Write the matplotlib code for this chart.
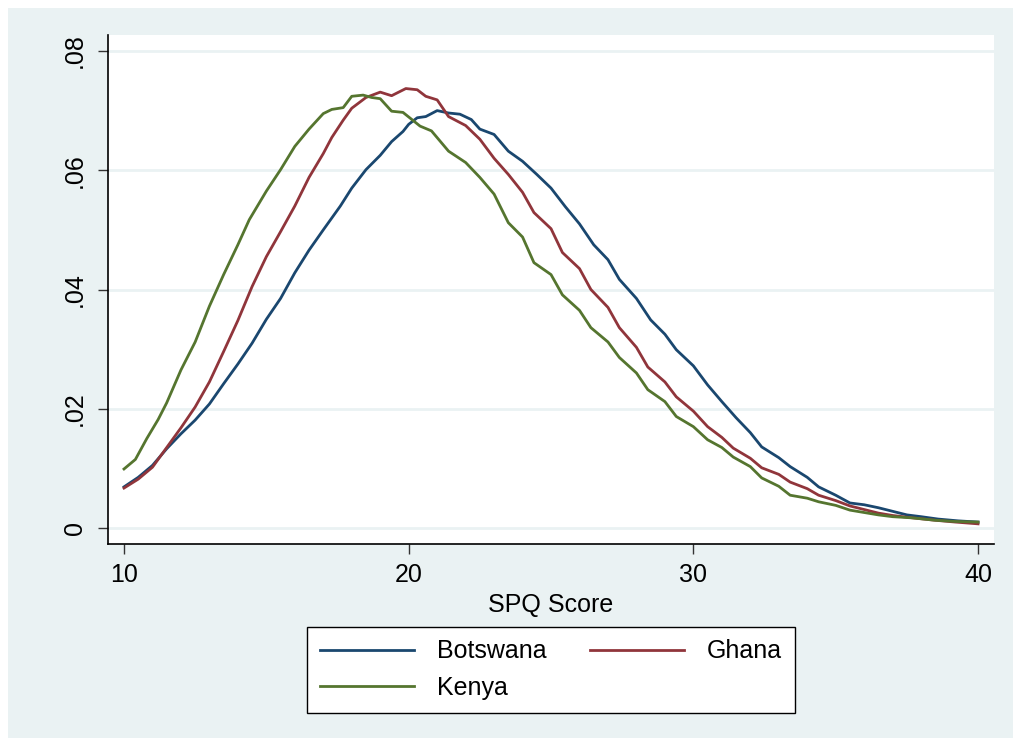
import matplotlib
matplotlib.use("Agg")
import matplotlib.pyplot as plt
from matplotlib.patches import Rectangle

# Kernel density of SPQ score by country
botswana_x = [10.0, 10.5, 11.0, 11.5, 12.0, 12.5, 13.0, 13.5, 14.0, 14.5,
              15.0, 15.5, 16.0, 16.5, 17.0, 17.6, 18.0, 18.5, 19.0, 19.4,
              19.8, 20.0, 20.3, 20.6, 21.0, 21.4, 21.8, 22.2, 22.5, 23.0,
              23.5, 24.0, 24.5, 25.0, 25.5, 26.0, 26.5, 27.0, 27.4, 28.0,
              28.5, 29.0, 29.4, 30.0, 30.5, 31.0, 31.5, 32.0, 32.4, 33.0,
              33.4, 34.0, 34.4, 35.0, 35.5, 36.0, 36.5, 37.0, 37.5, 38.0,
              38.6, 39.3, 40.0]
botswana_y = [.0069, .0085, .0105, .0133, .0158, .0181, .0208, .0242, .0275, .0310,
              .0350, .0385, .0428, .0466, .0500, .0540, .0570, .0601, .0625, .0648,
              .0665, .0677, .0688, .0690, .0700, .0696, .0694, .0685, .0669, .0660,
              .0632, .0615, .0593, .0570, .0539, .0510, .0475, .0450, .0417, .0385,
              .0349, .0325, .0299, .0272, .0240, .0212, .0185, .0160, .0136, .0118,
              .0103, .0085, .0069, .0055, .0042, .0039, .0034, .0028, .0022, .0019,
              .0015, .0012, .0010]

ghana_x = [10.0, 10.5, 11.0, 11.5, 12.0, 12.5, 13.0, 13.5, 14.0, 14.5,
           15.0, 15.5, 16.0, 16.5, 17.0, 17.3, 17.7, 18.0, 18.5, 19.0,
           19.4, 19.9, 20.3, 20.6, 21.0, 21.4, 22.0, 22.5, 23.0, 23.5,
           24.0, 24.4, 25.0, 25.4, 26.0, 26.4, 27.0, 27.4, 28.0, 28.4,
           29.0, 29.4, 30.0, 30.5, 31.0, 31.4, 32.0, 32.4, 33.0, 33.4,
           34.0, 34.4, 35.0, 35.5, 36.0, 36.5, 37.0, 37.7, 38.5, 39.2,
           40.0]
ghana_y = [.0067, .0082, .0102, .0135, .0168, .0203, .0245, .0296, .0348, .0405,
           .0455, .0497, .0540, .0588, .0628, .0655, .0684, .0704, .0722, .0731,
           .0725, .0737, .0735, .0724, .0718, .0690, .0675, .0652, .0620, .0593,
           .0563, .0529, .0502, .0462, .0435, .0400, .0370, .0336, .0303, .0270,
           .0245, .0220, .0196, .0170, .0152, .0134, .0117, .0101, .0090, .0077,
           .0066, .0055, .0046, .0037, .0031, .0025, .0021, .0017, .0013, .0010,
           .0007]

kenya_x = [10.0, 10.4, 10.8, 11.2, 11.5, 12.0, 12.5, 12.8, 13.0, 13.5,
           14.0, 14.4, 15.0, 15.5, 16.0, 16.5, 17.0, 17.3, 17.7, 18.0,
           18.4, 18.7, 19.0, 19.4, 19.8, 20.4, 20.8, 21.4, 22.0, 22.5,
           23.0, 23.5, 24.0, 24.4, 25.0, 25.4, 26.0, 26.4, 27.0, 27.4,
           28.0, 28.4, 29.0, 29.4, 30.0, 30.5, 31.0, 31.4, 32.0, 32.4,
           33.0, 33.4, 34.0, 34.4, 35.0, 35.5, 36.0, 36.5, 37.0, 37.7,
           38.5, 39.2, 40.0]
kenya_y = [.0099, .0115, .0150, .0182, .0210, .0265, .0312, .0348, .0372, .0425,
           .0475, .0517, .0565, .0601, .0640, .0669, .0695, .0702, .0705, .0724,
           .0726, .0722, .0720, .0699, .0697, .0674, .0666, .0632, .0613, .0588,
           .0560, .0512, .0488, .0445, .0425, .0391, .0365, .0336, .0312, .0286,
           .0260, .0232, .0212, .0187, .0170, .0148, .0135, .0119, .0103, .0084,
           .0070, .0055, .0050, .0044, .0038, .0030, .0026, .0022, .0019, .0017,
           .0013, .0011, .0010]

x_ticks = [10, 20, 30, 40]
y_ticks = [0, .02, .04, .06, .08]
y_tick_labels = ["0", ".02", ".04", ".06", ".08"]

# Stata s2color palette
NAVY = "#1A476F"
MAROON = "#90353B"
FOREST = "#55752F"
BLUISH = "#EAF2F3"

plt.rcParams["font.family"] = ["Liberation Sans", "DejaVu Sans"]

W, H = 1013, 739
fig = plt.figure(figsize=(W / 100, H / 100), dpi=100, facecolor="white")

# outer graph region, behind the axes
fig.patches.append(Rectangle((8 / W, 1 - 738 / H), (W - 8) / W, (738 - 8) / H,
                             transform=fig.transFigure, facecolor=BLUISH,
                             edgecolor="none", zorder=-10))

ax = fig.add_axes([108 / W, 1 - 544 / H, (994 - 108) / W, (544 - 35) / H])
ax.set_facecolor("white")

l_bw, = ax.plot(botswana_x, botswana_y, color=NAVY, lw=2.0, label="Botswana")
l_gh, = ax.plot(ghana_x, ghana_y, color=MAROON, lw=2.0, label="Ghana")
l_ke, = ax.plot(kenya_x, kenya_y, color=FOREST, lw=2.0, label="Kenya")

ax.set_xlim(9.438, 40.56)
ax.set_ylim(-0.00268, 0.08268)

for t in y_ticks:
    ax.axhline(t, color=BLUISH, lw=2.0, zorder=0)

ax.set_xticks(x_ticks)
ax.set_yticks(y_ticks)
ax.set_yticklabels(y_tick_labels, rotation=90, va="center")
ax.tick_params(axis="both", direction="out", length=7, width=1.0,
               color="#333333", labelsize=18, pad=7)
ax.tick_params(axis="y", pad=8)

for side in ["top", "right"]:
    ax.spines[side].set_visible(False)
for side in ["left", "bottom"]:
    ax.spines[side].set_linewidth(1.2)
    ax.spines[side].set_color("black")

ax.set_xlabel("SPQ Score", fontsize=18, labelpad=4)

# legend filled row by row: Botswana, Ghana / Kenya
leg = fig.legend([l_bw, l_ke, l_gh], ["Botswana", "Kenya", "Ghana"],
                 loc="upper center", bbox_to_anchor=(551 / W, 1 - 627 / H),
                 ncol=2, fontsize=18, frameon=True, fancybox=False,
                 framealpha=1, facecolor="white",
                 handlelength=3.76, handletextpad=0.92, columnspacing=1.75,
                 labelspacing=0.5, borderpad=0.5, borderaxespad=0)
leg.get_frame().set_edgecolor("black")
leg.get_frame().set_linewidth(1.0)

fig.savefig("out.png", dpi=100, facecolor=fig.get_facecolor())
